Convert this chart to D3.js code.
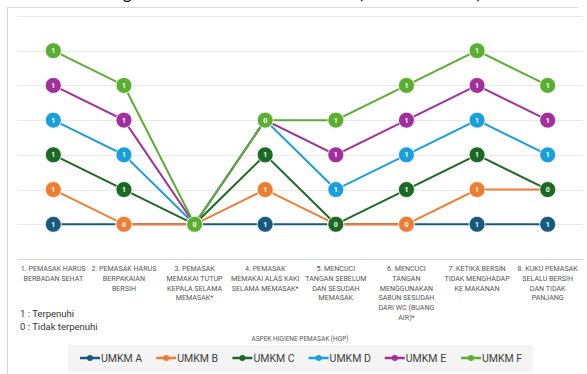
<!DOCTYPE html>
<html>
<head>
<meta charset="utf-8">
<script src="https://cdn.jsdelivr.net/npm/d3@7/dist/d3.min.js"></script>
<style>
  html, body { margin: 0; padding: 0; background: #fff; }
  svg { display: block; font-family: Roboto, "Noto Sans", sans-serif; }
</style>
</head>
<body>
<div id="chart"></div>
<script>
// aspek HGP (x categories), each label split into lines
var aspects = [
  ["1. PEMASAK HARUS", "BERBADAN SEHAT"],
  ["2. PEMASAK HARUS", "BERPAKAIAN", "BERSIH"],
  ["3. PEMASAK", "MEMAKAI TUTUP", "KEPALA SELAMA", "MEMASAK*"],
  ["4. PEMASAK", "MEMAKAI ALAS KAKI", "SELAMA MEMASAK*"],
  ["5. MENCUCI", "TANGAN SEBELUM", "DAN SESUDAH", "MEMASAK"],
  ["6. MENCUCI", "TANGAN", "MENGGUNAKAN", "SABUN SESUDAH", "DARI WC (BUANG", "AIR)*"],
  ["7. KETIKA BERSIN", "TIDAK MENGHADAP", "KE MAKANAN"],
  ["8. KUKU PEMASAK", "SELALU BERSIH", "DAN TIDAK", "PANJANG"]
];

var seriesNames = ["UMKM A", "UMKM B", "UMKM C", "UMKM D", "UMKM E", "UMKM F"];

// 1 = terpenuhi, 0 = tidak terpenuhi
var umkmA = [1, 1, 1, 1, 1, 1, 1, 1];
var umkmB = [1, 0, 0, 1, 0, 0, 1, 1];
var umkmC = [1, 1, 0, 1, 0, 1, 1, 0];
var umkmD = [1, 1, 0, 1, 1, 1, 1, 1];
var umkmE = [1, 1, 0, 0, 1, 1, 1, 1];
var umkmF = [1, 1, 0, 0, 1, 1, 1, 1];

var yTicks = [0, 1, 2, 3, 4, 5, 6, 7];

var colors = ["#17597f", "#ed7d31", "#1b6a24", "#1a9fdb", "#a1309c", "#5aae31"];

var allValues = [umkmA, umkmB, umkmC, umkmD, umkmE, umkmF];

// rows for d3.stack
var rows = aspects.map(function(a, i) {
  var r = { idx: i };
  seriesNames.forEach(function(name, s) { r[name] = allValues[s][i]; });
  return r;
});

var w = 587, h = 374;

var svg = d3.select("#chart").append("svg")
  .attr("width", w)
  .attr("height", h);

// title (only its bottom edge is inside the frame, like the reference crop)
svg.append("text")
  .attr("x", 106)
  .attr("y", -1)
  .attr("font-family", "Lato, sans-serif")
  .attr("font-size", 17)
  .attr("fill", "#000")
  .attr("textLength", 375)
  .text("Higiene Pemasak di Enam UMKM (Hasil Observasi)");

// frame
svg.append("line").attr("x1", 7.5).attr("x2", 7.5).attr("y1", 7).attr("y2", h)
  .attr("stroke", "#d9d9d9").attr("stroke-width", 1);
svg.append("line").attr("x1", 7).attr("x2", 578).attr("y1", 7.5).attr("y2", 7.5)
  .attr("stroke", "#d9d9d9").attr("stroke-width", 1);

var xscale = d3.scaleBand()
  .domain(d3.range(aspects.length))
  .range([18, 583]);

var yscale = d3.scaleLinear().domain([0, 7]).range([259, 16]);

// gridlines
svg.append("g").selectAll("line")
  .data(yTicks)
  .enter().append("line")
  .attr("x1", 18).attr("x2", 583)
  .attr("y1", function(d) { return Math.round(yscale(d)) + 0.5; })
  .attr("y2", function(d) { return Math.round(yscale(d)) + 0.5; })
  .attr("stroke", function(d) { return d === 0 ? "#d4d4d4" : "#e9e9e9"; })
  .attr("stroke-width", 1);

// x axis labels
var xl = svg.append("g").selectAll("text")
  .data(aspects)
  .enter().append("text")
  .attr("x", function(d, i) { return xscale(i) + xscale.bandwidth() / 2; })
  .attr("y", 271)
  .attr("text-anchor", "middle")
  .attr("font-size", 7.1)
  .attr("fill", "#555");
xl.selectAll("tspan")
  .data(function(d) { return d; })
  .enter().append("tspan")
  .attr("x", function() { return d3.select(this.parentNode).attr("x"); })
  .attr("dy", function(d, j) { return j === 0 ? 0 : 9.8; })
  .text(function(d) { return d; });

// stacked lines
var stacked = d3.stack().keys(seriesNames)(rows);

var line = d3.line()
  .x(function(d) { return xscale(d.data.idx) + xscale.bandwidth() / 2; })
  .y(function(d) { return yscale(d[1]); });

stacked.forEach(function(layer, s) {
  var g = svg.append("g").attr("class", "series" + s);
  g.append("path")
    .datum(layer)
    .attr("d", line)
    .attr("fill", "none")
    .attr("stroke", colors[s])
    .attr("stroke-width", 2);
  var pts = g.selectAll("g.pt").data(layer).enter().append("g")
    .attr("transform", function(d) {
      return "translate(" + (xscale(d.data.idx) + xscale.bandwidth() / 2) + "," + yscale(d[1]) + ")";
    });
  pts.append("circle")
    .attr("r", 8)
    .attr("fill", colors[s])
    .attr("stroke", "#fff")
    .attr("stroke-width", 0.8);
  pts.append("text")
    .attr("y", 2.5)
    .attr("text-anchor", "middle")
    .attr("font-size", 7)
    .attr("font-weight", "bold")
    .attr("fill", "#fff")
    .text(function(d) { return d.data[layer.key]; });
});

// note
svg.append("text").attr("x", 20).attr("y", 317)
  .attr("font-size", 9.5).attr("fill", "#333")
  .text("1 : Terpenuhi");
svg.append("text").attr("x", 20).attr("y", 330)
  .attr("font-size", 9.5).attr("fill", "#333")
  .text("0 : Tidak terpenuhi");

// axis title
svg.append("text")
  .attr("x", 300).attr("y", 341)
  .attr("text-anchor", "middle")
  .attr("font-size", 6.5)
  .attr("fill", "#595959")
  .text("ASPEK HIGIENE PEMASAK (HGP)");

// legend
svg.append("rect")
  .attr("x", 68).attr("y", 345).attr("width", 465).attr("height", 27)
  .attr("fill", "#f4f4f4");

var legend = svg.append("g").selectAll("g")
  .data(seriesNames)
  .enter().append("g")
  .attr("transform", function(d, i) { return "translate(" + (80 + i * 76.2) + ",358)"; });
legend.append("line")
  .attr("x1", 0).attr("x2", 20)
  .attr("stroke", function(d, i) { return colors[i]; })
  .attr("stroke-width", 2.5);
legend.append("circle")
  .attr("cx", 10).attr("r", 3)
  .attr("fill", function(d, i) { return colors[i]; });
legend.append("text")
  .attr("x", 21).attr("y", 4)
  .attr("font-size", 10.5)
  .attr("fill", "#404040")
  .text(function(d) { return d; });
</script>
</body>
</html>
